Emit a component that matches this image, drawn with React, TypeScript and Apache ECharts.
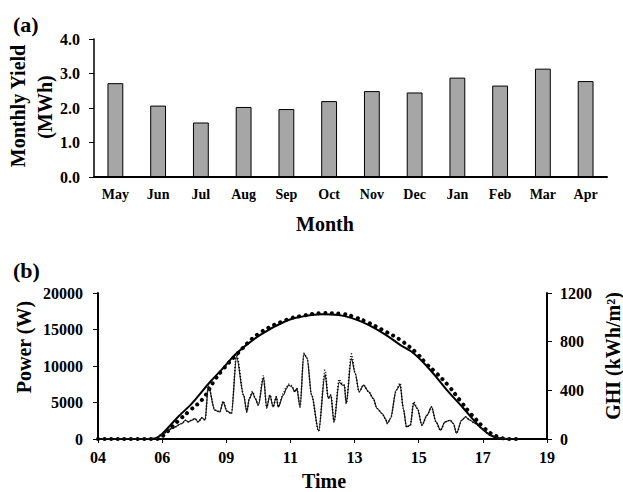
import React, { useEffect, useRef } from "react";
import * as echarts from "echarts";

// ---------- Panel (a): monthly yield ----------
const months = ["May", "Jun", "Jul", "Aug", "Sep", "Oct", "Nov", "Dec", "Jan", "Feb", "Mar", "Apr"];
const monthlyYield = [2.72, 2.07, 1.58, 2.03, 1.97, 2.2, 2.49, 2.45, 2.88, 2.65, 3.14, 2.78];

// ---------- Panel (b): daily profile ----------
const timeLabels = ["04", "06", "09", "11", "13", "15", "17", "19"];

// smooth (clear-sky) power curve, W
const timeSmooth = [0, 0.8, 0.9, 1.0, 1.25, 1.44, 1.51, 1.75, 1.95, 2.16, 2.53, 2.94, 3.2, 3.49, 3.75, 3.96, 4.2, 4.48, 4.71, 4.92, 5.18, 5.44, 5.7, 5.93, 6.12, 6.27, 6.4, 6.55];
const powerClear = [0, 0, 100, 700, 3050, 4640, 5330, 7840, 9700, 11750, 14270, 16200, 16800, 17100, 17000, 16560, 15700, 14300, 12900, 11750, 9450, 6700, 4180, 1890, 500, 100, 0, 0];

// clear-sky GHI (large dots), W/m2
const timeGhiClear = [0, 0.9, 1.0, 1.25, 1.44, 1.64, 1.82, 1.95, 2.18, 2.5, 2.94, 3.2, 3.5, 3.8, 4.0, 4.2, 4.43, 4.71, 4.97, 5.12, 5.28, 5.46, 5.64, 5.79, 5.88, 6.0, 6.12, 6.27, 6.4, 6.55];
const ghiClear = [0, 0, 21, 149, 237, 334, 485, 573, 705, 864, 980, 1014, 1035, 1029, 1002, 960, 898, 815, 705, 617, 540, 440, 320, 220, 168, 102, 48, 12, 0, 0];

// measured (noisy) curves
const timeMeasured = [0, 0.89, 0.99, 1.15, 1.31, 1.36, 1.41, 1.46, 1.51, 1.56, 1.62, 1.67, 1.72, 1.82, 1.9, 1.95, 2.01, 2.08, 2.16, 2.27, 2.32, 2.36, 2.41, 2.45, 2.5, 2.58, 2.63, 2.68, 2.73, 2.78, 2.81, 2.89, 2.94, 2.97, 3.02, 3.07, 3.1, 3.15, 3.21, 3.26, 3.33, 3.44, 3.54, 3.59, 3.63, 3.68, 3.76, 3.81, 3.84, 3.87, 3.95, 4.01, 4.07, 4.14, 4.22, 4.29, 4.35, 4.43, 4.48, 4.51, 4.56, 4.65, 4.71, 4.76, 4.81, 4.87, 4.92, 4.98, 5.05, 5.13, 5.2, 5.27, 5.34, 5.41, 5.49, 5.54, 5.59, 5.67, 5.73, 5.8, 5.88, 5.99, 6.12, 6.27, 6.43, 6.55];
const powerMeasured = [0, 0, 600, 1430, 2120, 2570, 2340, 2570, 2800, 2340, 2900, 2600, 7250, 3950, 3720, 5090, 3810, 3490, 11280, 6010, 3720, 5560, 6380, 5560, 4640, 8400, 4270, 6010, 4400, 5780, 4400, 6010, 6930, 7390, 7160, 6470, 6930, 4400, 11700, 11060, 6010, 1100, 8900, 5560, 6010, 2340, 7800, 7390, 7390, 4870, 11000, 9000, 6470, 7390, 6470, 5560, 4180, 3490, 2800, 2120, 2800, 6700, 7390, 4180, 1650, 1890, 4870, 4180, 1890, 3260, 4400, 2340, 1200, 2340, 2570, 2120, 800, 2570, 3030, 2570, 2120, 1430, 500, 100, 0, 0];
const ghiMeasured = [0, 0, 36, 86, 127, 154, 140, 154, 168, 140, 174, 156, 445, 237, 223, 310, 229, 209, 695, 361, 223, 334, 390, 334, 278, 520, 256, 361, 264, 347, 264, 375, 430, 450, 440, 388, 416, 264, 705, 664, 361, 66, 567, 334, 361, 140, 490, 455, 443, 292, 700, 540, 388, 443, 388, 334, 251, 209, 168, 127, 168, 402, 460, 251, 99, 113, 305, 251, 113, 196, 264, 140, 72, 140, 154, 127, 48, 154, 182, 154, 127, 86, 30, 6, 0, 0];

const FONT = '"Liberation Serif", "Times New Roman", serif';

const zip = (xs: number[], ys: number[]) => xs.map((x, i) => [x, ys[i]]);

export default function App() {
  const ref = useRef<HTMLDivElement>(null);

  useEffect(() => {
    if (!ref.current) return;
    const chart = echarts.init(ref.current, null, { renderer: "svg" });

    const numLabel = { color: "#000", fontFamily: FONT, fontWeight: "bold" as const, fontSize: 16 };
    const titleFont = `bold 20px ${FONT}`;
    const plain = (v: number) => String(v);
    const line = (width: number) => ({ show: true, onZero: false, lineStyle: { color: "#000", width } });

    const option: any = {
      animation: false,
      backgroundColor: "#fff",
      grid: [
        { left: 94, top: 39, width: 513, height: 138 },
        { left: 98, top: 293, width: 449, height: 146 },
      ],
      xAxis: [
        {
          gridIndex: 0,
          type: "category",
          data: months,
          axisLine: line(2),
          axisTick: { show: false },
          axisLabel: { color: "#000", fontFamily: FONT, fontWeight: "bold", fontSize: 14, margin: 10 },
          splitLine: { show: false },
        },
        {
          gridIndex: 1,
          type: "value",
          position: "bottom",
          min: 0,
          max: 7,
          interval: 1,
          axisLine: line(2),
          axisTick: { show: true, length: 4, lineStyle: { color: "#000", width: 1 } },
          axisLabel: { ...numLabel, margin: 10, formatter: (v: number) => timeLabels[Math.round(v)] ?? "" },
          splitLine: { show: false },
        },
      ],
      yAxis: [
        {
          gridIndex: 0,
          type: "value",
          min: 0,
          max: 4,
          interval: 1,
          axisLine: line(1.5),
          axisTick: { show: true, length: 5, lineStyle: { color: "#000", width: 1 } },
          axisLabel: { ...numLabel, margin: 14, formatter: (v: number) => v.toFixed(1) },
          splitLine: { show: false },
        },
        {
          gridIndex: 1,
          type: "value",
          position: "left",
          min: 0,
          max: 20000,
          interval: 5000,
          axisLine: line(2),
          axisTick: { show: true, length: 5, lineStyle: { color: "#000", width: 1 } },
          axisLabel: { ...numLabel, margin: 15, formatter: plain },
          splitLine: { show: false },
        },
        {
          gridIndex: 1,
          type: "value",
          position: "right",
          min: 0,
          max: 1200,
          interval: 400,
          axisLine: line(2),
          axisTick: { show: true, length: 5, lineStyle: { color: "#000", width: 1 } },
          axisLabel: { ...numLabel, margin: 13, formatter: plain },
          splitLine: { show: false },
        },
      ],
      series: [
        {
          name: "Monthly Yield",
          type: "bar",
          xAxisIndex: 0,
          yAxisIndex: 0,
          data: monthlyYield,
          barWidth: "37%",
          itemStyle: { color: "#a6a6a6", borderColor: "#000", borderWidth: 1 },
        },
        {
          name: "Power (clear sky)",
          type: "line",
          xAxisIndex: 1,
          yAxisIndex: 1,
          data: zip(timeSmooth, powerClear),
          showSymbol: false,
          smooth: 0.4,
          lineStyle: { color: "#000", width: 2 },
        },
        {
          name: "GHI (clear sky)",
          type: "line",
          xAxisIndex: 1,
          yAxisIndex: 2,
          data: zip(timeGhiClear, ghiClear),
          showSymbol: false,
          smooth: 0.4,
          lineStyle: { color: "#000", width: 4, type: [0.1, 6.5], cap: "round" },
        },
        {
          name: "Power (measured)",
          type: "line",
          xAxisIndex: 1,
          yAxisIndex: 1,
          data: zip(timeMeasured, powerMeasured),
          showSymbol: false,
          smooth: 0.3,
          smoothMonotone: "x",
          lineStyle: { color: "#222", width: 1.2 },
        },
        {
          name: "GHI (measured)",
          type: "line",
          xAxisIndex: 1,
          yAxisIndex: 2,
          data: zip(timeMeasured, ghiMeasured),
          showSymbol: false,
          smooth: 0.3,
          smoothMonotone: "x",
          lineStyle: { color: "#000", width: 1.6, type: [1, 2] },
        },
      ],
      graphic: [
        { type: "text", x: 13, y: 24, style: { text: "(a)", font: `bold 22px ${FONT}`, fill: "#000", verticalAlign: "middle" } },
        { type: "text", x: 18, y: 106, rotation: Math.PI / 2, style: { text: "Monthly Yield", font: titleFont, fill: "#000", align: "center", verticalAlign: "middle" } },
        { type: "text", x: 45, y: 107, rotation: Math.PI / 2, style: { text: "(MWh)", font: titleFont, fill: "#000", align: "center", verticalAlign: "middle" } },
        { type: "text", x: 325, y: 224, style: { text: "Month", font: titleFont, fill: "#000", align: "center", verticalAlign: "middle" } },
        { type: "text", x: 13, y: 270, style: { text: "(b)", font: `bold 22px ${FONT}`, fill: "#000", verticalAlign: "middle" } },
        { type: "text", x: 24, y: 347, rotation: Math.PI / 2, style: { text: "Power (W)", font: titleFont, fill: "#000", align: "center", verticalAlign: "middle" } },
        { type: "text", x: 613, y: 356, rotation: Math.PI / 2, style: { text: "GHI (kWh/m²)", font: titleFont, fill: "#000", align: "center", verticalAlign: "middle" } },
        { type: "text", x: 324, y: 481, style: { text: "Time", font: titleFont, fill: "#000", align: "center", verticalAlign: "middle" } },
      ],
    };

    chart.setOption(option);
    return () => chart.dispose();
  }, []);

  return <div ref={ref} style={{ position: "absolute", left: 0, top: 0, width: 623, height: 492 }} />;
}
